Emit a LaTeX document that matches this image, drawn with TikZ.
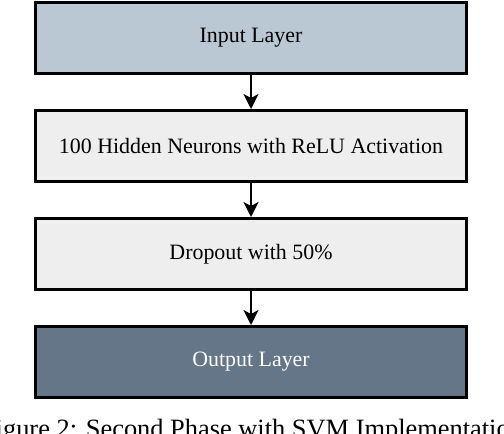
\documentclass[tikz,border=0pt]{standalone}
\usepackage{fontspec}
\setmainfont{Liberation Serif}
\usepackage{xcolor}
\usetikzlibrary{arrows.meta,positioning}
\definecolor{inputfill}{HTML}{BAC8D3}
\definecolor{hiddenfill}{HTML}{EEEEEE}
\definecolor{outputfill}{HTML}{647687}

\begin{document}
\begin{tikzpicture}[x=1bp,y=-1bp,
  font=\fontsize{22}{26}\selectfont,
  box/.style={draw,line width=3bp,fill=#1,align=center,minimum width=431bp,minimum height=71bp,inner sep=3pt},
  arr/.style={-{Stealth[length=15bp,width=15bp,inset=4bp]},line width=2bp},
  node distance=34bp]
  \useasboundingbox (0,0) rectangle (504,434);
  \node[box=inputfill] (in) at (251,38) {Input Layer};
  \node[box=hiddenfill,below=of in] (hid) {100 Hidden Neurons with ReLU Activation};
  \node[box=hiddenfill,below=of hid] (drop) {Dropout with 50\%};
  \node[box=outputfill,text=white,below=of drop] (out) {Output Layer};
  % caption
  \node[font=\fontsize{26.5}{30}\selectfont,anchor=base] (cap) at (252,437) {Figure 2: Second Phase with SVM Implementation};
  \draw[arr] (in)--(hid); \draw[arr] (hid)--(drop); \draw[arr] (drop)--(out);
\end{tikzpicture}
\end{document}
